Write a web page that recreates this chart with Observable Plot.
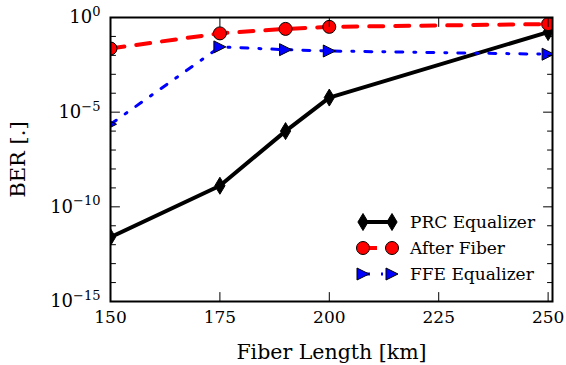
<!DOCTYPE html>
<html><head><meta charset="utf-8">
<script src="https://cdn.jsdelivr.net/npm/d3@7"></script>
<script src="https://cdn.jsdelivr.net/npm/@observablehq/plot@0.6"></script>
<style>
body{margin:0;background:#fff;}
#wrap{position:relative;width:566px;height:365px;}
#legend{position:absolute;left:350px;top:205px;}
</style></head><body><div id="wrap"></div>
<script>
// ---- data ----
const lengths = [150, 175, 190, 200, 250];
const prc = [2.5e-12, 1.3e-9, 1e-6, 5.9e-5, 0.17];
const afterFiber = [0.023, 0.145, 0.25, 0.32, 0.45];
const ffe = [2.3e-6, 0.028, 0.02, 0.017, 0.0115];
const seriesNames = ["PRC Equalizer", "After Fiber", "FFE Equalizer"];
const seriesColors = ["black", "red", "blue"];
const xTicks = [150, 175, 200, 225, 250];
const yMajorExp = [-15, -10, -5, 0];
const yMinorExp = [-14, -13, -12, -11, -9, -8, -7, -6, -4, -3, -2, -1];

const yMajor = yMajorExp.map(e => Math.pow(10, e));
const yMinor = yMinorExp.map(e => Math.pow(10, e));
const rows = lengths.map((x, i) => ({x, prc: prc[i], af: afterFiber[i], ffe: ffe[i]}));

// ---- symbols ----
const thinDiamond = {draw(ctx, size) {const r = Math.sqrt(size / Math.PI); ctx.moveTo(0, -r); ctx.lineTo(r * 0.6, 0); ctx.lineTo(0, r); ctx.lineTo(-r * 0.6, 0); ctx.closePath();}};
const triRight = {draw(ctx, size) {const r = Math.sqrt(size / Math.PI); ctx.moveTo(r, 0); ctx.lineTo(-r, -r); ctx.lineTo(-r, r); ctx.closePath();}};
const tickShape = {draw(ctx, l) {ctx.moveTo(0, 0); ctx.lineTo(0, -l);}};

const styles = [
  {key: "prc", stroke: "black", width: 4, dash: null, symbol: thinDiamond, r: 8.5},
  {key: "af", stroke: "red", width: 4, dash: "14,12", symbol: "circle", r: 6.5},
  {key: "ffe", stroke: "blue", width: 3, dash: "7,11,2,11", symbol: triRight, r: 6}
];

const marks = [];
styles.forEach((s, i) => {
  marks.push(Plot.lineY(rows, {x: "x", y: s.key, stroke: s.stroke, strokeWidth: s.width, strokeDasharray: s.dash, clip: true}));
  marks.push(Plot.dot(rows, {x: "x", y: s.key, symbol: s.symbol, r: s.r, fill: seriesColors[i], stroke: "black", strokeWidth: 1, clip: true}));
});

const tk = (data, opts) => Plot.vectorY(data, {y: d => d, shape: tickShape, anchor: "start", stroke: "black", strokeWidth: 1, ...opts});
const tx = (data, opts) => Plot.vectorX(data, {x: d => d, shape: tickShape, anchor: "start", stroke: "black", strokeWidth: 1, ...opts});

marks.push(
  Plot.frame({stroke: "black", strokeWidth: 2}),
  tk(yMajor, {frameAnchor: "left", rotate: 90, length: 9}),
  tk(yMinor, {frameAnchor: "left", rotate: 90, length: 5}),
  tk(yMajor, {frameAnchor: "right", rotate: -90, length: 9}),
  tk(yMinor, {frameAnchor: "right", rotate: -90, length: 5}),
  tx(xTicks, {frameAnchor: "bottom", rotate: 0, length: 9}),
  tx(xTicks, {frameAnchor: "top", rotate: 180, length: 9}),
  Plot.axisX(xTicks, {tickSize: 0, tickPadding: 9, fontSize: 17, label: null, tickFormat: d => String(d)}),
  Plot.axisX([], {tickSize: 0, fontSize: 20.5, label: "Fiber Length [km]", labelAnchor: "center", labelOffset: 57, labelArrow: "none"}),
  Plot.axisY(yMajor, {tickSize: 0, tickPadding: 10, fontSize: 18, label: null, tickFormat: d => "10^" + Math.round(Math.log10(d))}),
  Plot.axisY([], {tickSize: 0, fontSize: 21, label: "BER [.]", labelAnchor: "center", labelOffset: 100, labelArrow: "none"})
);

const chart = Plot.plot({
  width: 566, height: 365,
  marginLeft: 110, marginRight: 14, marginTop: 17, marginBottom: 64,
  style: {fontFamily: "DejaVu Serif", fontSize: "17px", background: "white", color: "black", overflow: "visible"},
  x: {domain: [150, 251]},
  y: {type: "log", domain: [1e-15, 1]},
  marks
});

// superscript exponents on y tick labels
d3.select(chart).selectAll('g[aria-label="y-axis tick label"] text').each(function() {
  const t = d3.select(this);
  const parts = t.text().split("^");
  if (parts.length < 2) return;
  t.text(parts[0]);
  t.append("tspan").attr("dy", "-0.55em").attr("font-size", "13px").text(parts[1].replace("-", "\u2212"));
});

const wrap = document.getElementById("wrap");
wrap.appendChild(chart);

// legend
const lg = d3.select(wrap).append("svg").attr("id", "legend").attr("width", 200).attr("height", 85)
  .style("font-family", "DejaVu Serif").style("font-size", "17px");
styles.forEach((s, i) => {
  const y = 17 + i * 26;
  const g = lg.append("g").attr("transform", `translate(0,${y})`);
  g.append("line").attr("x1", 13).attr("x2", 42).attr("stroke", s.stroke).attr("stroke-width", s.width).attr("stroke-dasharray", s.dash);
  const sym = d3.symbol(s.symbol === "circle" ? d3.symbolCircle : s.symbol, Math.PI * s.r * s.r);
  [13, 42].forEach(cx => g.append("path").attr("d", sym()).attr("transform", `translate(${cx},0)`).attr("fill", seriesColors[i]).attr("stroke", "black").attr("stroke-width", 1));
  g.append("text").attr("x", 60).attr("dy", "0.35em").attr("fill", "black").text(seriesNames[i]);
});
</script>
</body></html>
